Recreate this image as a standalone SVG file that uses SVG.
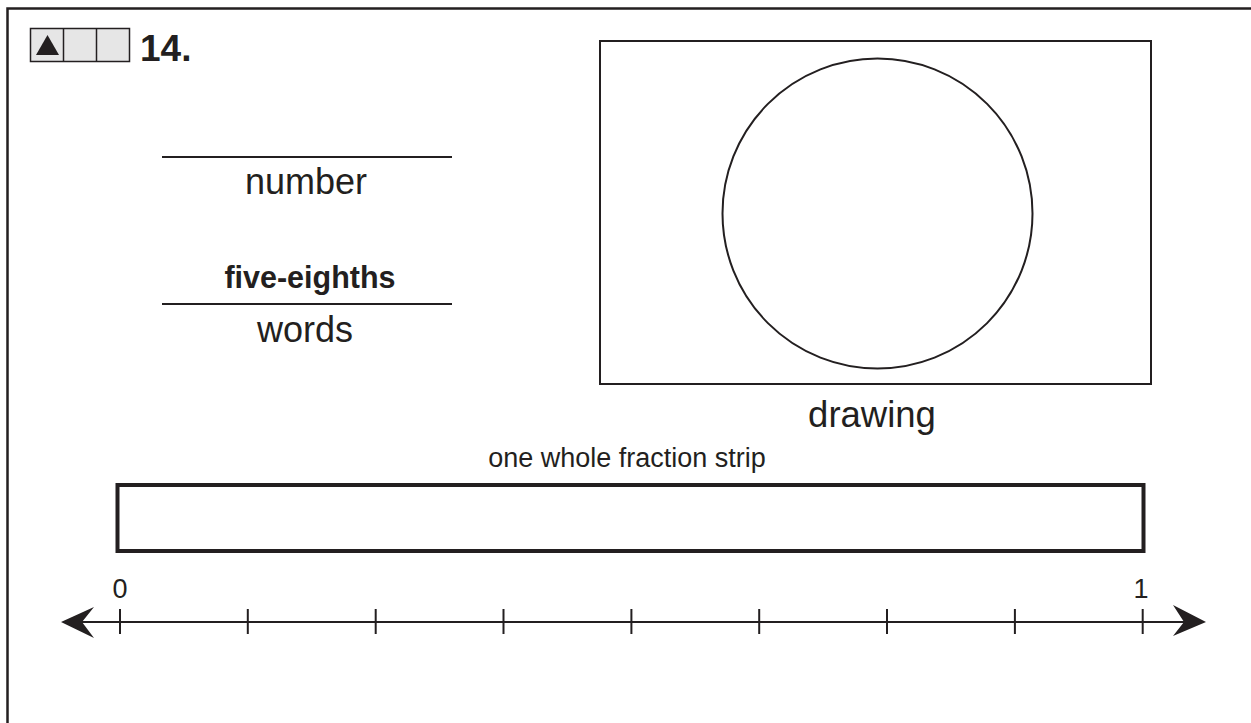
<svg xmlns="http://www.w3.org/2000/svg" width="1251" height="723" viewBox="0 0 1251 723">
<style>
.t{font-family:"Liberation Sans",Arial,sans-serif;fill:#231f20}
.ln{stroke:#231f20;fill:none}
</style>
<rect width="1251" height="723" fill="#fff"/>
<g id="frame"><path class="ln" d="M7.5,723 V8.5 H1251" stroke-width="2.5"/></g>
<g id="badge">
<rect x="30.5" y="28.5" width="99" height="33" fill="#e6e6e6" stroke="#231f20" stroke-width="1.5"/>
<line class="ln" x1="63.5" y1="28.5" x2="63.5" y2="61.5" stroke-width="1.5"/>
<line class="ln" x1="96.5" y1="28.5" x2="96.5" y2="61.5" stroke-width="1.5"/>
<polygon points="36,55 59,55 47.5,35" fill="#231f20"/>
<text class="t" x="140" y="61" font-size="37" font-weight="bold">14.</text>
</g>
<g id="number">
<line class="ln" x1="162" y1="157" x2="452" y2="157" stroke-width="2"/>
<text class="t" x="306" y="194" font-size="36" text-anchor="middle">number</text>
</g>
<g id="words">
<text class="t" x="310" y="288" font-size="30.5" font-weight="bold" text-anchor="middle">five-eighths</text>
<line class="ln" x1="162" y1="304" x2="452" y2="304" stroke-width="2"/>
<text class="t" x="305" y="342" font-size="36" text-anchor="middle">words</text>
</g>
<g id="drawing">
<rect class="ln" x="600" y="41" width="551" height="343" stroke-width="2"/>
<circle class="ln" cx="877.5" cy="213.5" r="155" stroke-width="2"/>
<text class="t" x="872" y="427" font-size="36.5" text-anchor="middle">drawing</text>
</g>
<g id="strip">
<text class="t" x="627" y="467" font-size="27" text-anchor="middle">one whole fraction strip</text>
<rect class="ln" x="117.5" y="485" width="1026" height="66" stroke-width="4"/>
</g>
<g id="numberline">
<line class="ln" x1="75" y1="622" x2="1192" y2="622" stroke-width="2"/>
<polygon points="61,622 94,607 82,622 94,638" fill="#231f20"/>
<polygon points="1206,622 1173,605 1184,622 1173,636" fill="#231f20"/>
<g class="ln" stroke-width="2">
<line x1="120" y1="609" x2="120" y2="634"/>
<line x1="247.8" y1="609" x2="247.8" y2="634"/>
<line x1="375.7" y1="609" x2="375.7" y2="634"/>
<line x1="503.5" y1="609" x2="503.5" y2="634"/>
<line x1="631.4" y1="609" x2="631.4" y2="634"/>
<line x1="759.2" y1="609" x2="759.2" y2="634"/>
<line x1="887" y1="609" x2="887" y2="634"/>
<line x1="1014.9" y1="609" x2="1014.9" y2="634"/>
<line x1="1142.7" y1="609" x2="1142.7" y2="634"/>
</g>
<text class="t" x="120" y="598" font-size="27" text-anchor="middle">0</text>
<text class="t" x="1141" y="598" font-size="27" text-anchor="middle">1</text>
</g>
</svg>
